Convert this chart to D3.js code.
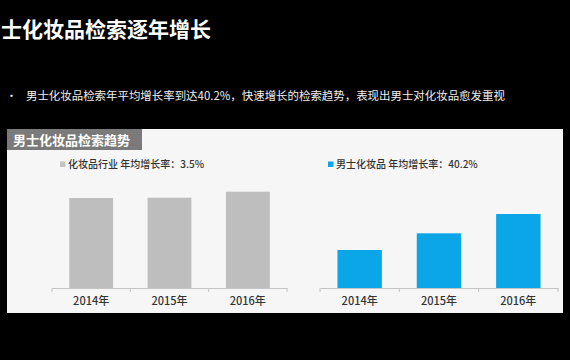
<!DOCTYPE html>
<html>
<head>
<meta charset="utf-8">
<script src="https://cdn.jsdelivr.net/npm/d3@7/dist/d3.min.js"></script>
<style>
  html, body { margin: 0; padding: 0; background: #000; }
  svg { display: block; font-family: "Noto Sans CJK SC", "Noto Sans", sans-serif; }
</style>
</head>
<body>
<div id="viz"></div>
<script>
const years = ['2014年', '2015年', '2016年']
const industryValues = [90, 90.3, 96.3]
const maleValues = [38, 54.7, 74]
const industryLabel = '化妆品行业 年均增长率：3.5%'
const maleLabel = '男士化妆品 年均增长率：40.2%'

const width = 570
const height = 360

let svg = d3.select('#viz')
  .append('svg')
    .attr('width', width)
    .attr('height', height)

svg.append('rect')
  .attr('width', width).attr('height', height)
  .attr('fill', '#000')

// headline
svg.append('text')
  .attr('x', 1).attr('y', 37)
  .attr('fill', '#fff')
  .attr('font-size', 21)
  .attr('font-weight', 'bold')
  .text('士化妆品检索逐年增长')

svg.append('text')
  .attr('x', 6).attr('y', 100)
  .attr('fill', '#eee')
  .attr('font-size', 11)
  .text('•')

svg.append('text')
  .attr('x', 26).attr('y', 100)
  .attr('fill', '#f0f0f0')
  .attr('font-size', 11.45)
  .text('男士化妆品检索年平均增长率到达40.2%，快速增长的检索趋势，表现出男士对化妆品愈发重视')

// panel
svg.append('rect')
  .attr('x', 7).attr('y', 129)
  .attr('width', 556).attr('height', 184)
  .attr('fill', '#f6f6f6')

svg.append('rect')
  .attr('x', 7).attr('y', 129)
  .attr('width', 135).attr('height', 21)
  .attr('fill', '#7a7a7a')

svg.append('text')
  .attr('x', 13).attr('y', 144.5)
  .attr('fill', '#fff')
  .attr('font-size', 13)
  .attr('font-weight', 'bold')
  .text('男士化妆品检索趋势')

const y = d3.scaleLinear().domain([0, 100]).range([288, 188])

function chart(values, x0, x1, color, legendColor, label) {
  let x = d3.scaleBand()
    .domain(years)
    .range([x0, x1])
    .paddingInner(0.44)
    .paddingOuter(0.22)

  let g = svg.append('g')

  g.selectAll('rect.bar')
    .data(values)
    .join('rect')
      .attr('class', 'bar')
      .attr('x', (d, i) => x(years[i]))
      .attr('width', x.bandwidth())
      .attr('y', d => y(d))
      .attr('height', d => y(0) - y(d))
      .attr('fill', color)

  // axis: labels centred, ticks at band edges
  let axis = g.append('g')
    .attr('transform', 'translate(0,' + y(0) + ')')
    .call(d3.axisBottom(x).tickSize(0).tickPadding(9))
  axis.select('.domain').attr('stroke', '#c4c4c4')
  axis.selectAll('text')
    .attr('fill', '#333')
    .attr('font-size', 11)
    .attr('font-weight', 500)
    .attr('font-family', '"Noto Sans CJK SC", sans-serif')

  let edges = d3.range(years.length + 1).map(i => x0 + i * x.step())
  g.selectAll('line.edge')
    .data(edges)
    .join('line')
      .attr('class', 'edge')
      .attr('x1', d => d).attr('x2', d => d)
      .attr('y1', y(0)).attr('y2', y(0) + 4)
      .attr('stroke', '#c4c4c4')

  let lx = x0 + 8
  g.append('rect')
    .attr('x', lx).attr('y', 161.5)
    .attr('width', 5.5).attr('height', 5.5)
    .attr('fill', legendColor)
  g.append('text')
    .attr('x', lx + 8).attr('y', 168)
    .attr('fill', '#333')
    .attr('font-size', 10)
    .attr('font-weight', 500)
    .text(label)
}

chart(industryValues, 52, 287, '#bebebe', '#c4c4c4', industryLabel)
chart(maleValues, 320, 558, '#0aa6e8', '#0aa6e8', maleLabel)
</script>
</body>
</html>
